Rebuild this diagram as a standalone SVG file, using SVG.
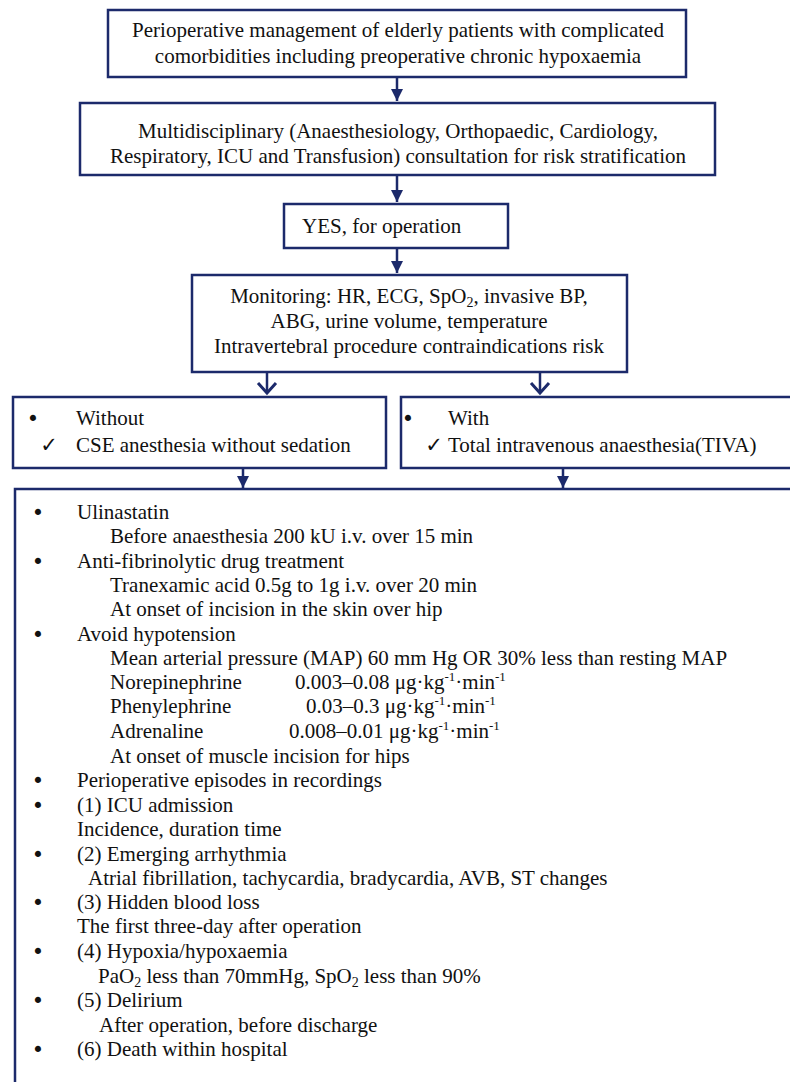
<svg xmlns="http://www.w3.org/2000/svg" width="790" height="1082" viewBox="0 0 790 1082">
<style>
  .box { fill: #ffffff; stroke: #1c2a6b; stroke-width: 2.5; }
  .t { font-family: "Liberation Serif", "DejaVu Serif", "DejaVu Sans", serif; font-size: 21px; fill: #111111; }
  .c { text-anchor: middle; }
  .b { font-family: "DejaVu Sans", sans-serif; font-size: 21px; fill: #111111; text-anchor: middle; }
  .conn { stroke: #1c2a6b; stroke-width: 2.5; fill: none; }
  .sup { font-size: 13px; }
</style>
<defs>
  <marker id="tri" markerUnits="userSpaceOnUse" markerWidth="14" markerHeight="14" viewBox="0 0 14 14" refX="12" refY="7" orient="auto">
    <path d="M0,1 L12,7 L0,13 Z" fill="#1c2a6b"/>
  </marker>
  <marker id="chev" markerUnits="userSpaceOnUse" markerWidth="16" markerHeight="22" viewBox="0 0 16 22" refX="13" refY="11" orient="auto">
    <path d="M3,2 L13,11 L3,20" fill="none" stroke="#1c2a6b" stroke-width="3"/>
  </marker>
</defs>
<rect width="790" height="1082" fill="#ffffff"/>

<g id="connectors">
  <path class="conn" d="M397,77 L397,101" marker-end="url(#tri)"/>
  <path class="conn" d="M397,175 L397,202" marker-end="url(#tri)"/>
  <path class="conn" d="M397,248 L397,273" marker-end="url(#tri)"/>
  <path class="conn" d="M267,372 L267,393" marker-end="url(#chev)"/>
  <path class="conn" d="M540,372 L540,393" marker-end="url(#chev)"/>
  <path class="conn" d="M243,468 L243,488" marker-end="url(#tri)"/>
  <path class="conn" d="M563,468 L563,488" marker-end="url(#tri)"/>
</g>

<g id="node-start">
  <rect class="box" x="108" y="10" width="578" height="67"/>
  <text class="t c" x="398" y="37">Perioperative management of elderly patients with complicated</text>
  <text class="t c" x="398" y="63">comorbidities including preoperative chronic hypoxaemia</text>
</g>

<g id="node-consult">
  <rect class="box" x="80" y="103" width="635" height="72"/>
  <text class="t c" x="398" y="138">Multidisciplinary (Anaesthesiology, Orthopaedic, Cardiology,</text>
  <text class="t c" x="398" y="163">Respiratory, ICU and Transfusion) consultation for risk stratification</text>
</g>

<g id="node-yes">
  <rect class="box" x="284" y="204" width="224" height="44"/>
  <text class="t" x="302" y="233">YES, for operation</text>
</g>

<g id="node-monitoring">
  <rect class="box" x="192" y="275" width="435" height="97"/>
  <text class="t c" x="409" y="303">Monitoring: HR, ECG, SpO<tspan font-size="14" dy="4">2</tspan><tspan dy="-4">, invasive BP,</tspan></text>
  <text class="t c" x="409" y="328">ABG, urine volume, temperature</text>
  <text class="t c" x="409" y="353">Intravertebral procedure contraindications risk</text>
</g>

<g id="node-without">
  <rect class="box" x="13" y="397" width="373" height="71"/>
  <text class="b" x="33" y="426">•</text>
  <text class="t" x="76" y="425">Without</text>
  <text class="t c" x="49" y="452">✓</text>
  <text class="t" x="76" y="452">CSE anesthesia without sedation</text>
</g>

<g id="node-with">
  <rect class="box" x="401" y="397" width="420" height="71"/>
  <text class="b" x="408" y="426">•</text>
  <text class="t" x="448" y="425">With</text>
  <text class="t c" x="434" y="452">✓</text>
  <text class="t" x="448" y="452">Total intravenous anaesthesia(TIVA)</text>
</g>

<g id="node-management">
  <rect class="box" x="15" y="489" width="820" height="640"/>
  <text class="b" x="38" y="520">•</text>
  <text class="t" x="77" y="519">Ulinastatin</text>
  <text class="t" x="110" y="543">Before anaesthesia 200 kU i.v. over 15 min</text>
  <text class="b" x="38" y="569">•</text>
  <text class="t" x="77" y="568">Anti-fibrinolytic drug treatment</text>
  <text class="t" x="110" y="592">Tranexamic acid 0.5g to 1g i.v. over 20 min</text>
  <text class="t" x="110" y="616">At onset of incision in the skin over hip</text>
  <text class="b" x="38" y="642">•</text>
  <text class="t" x="77" y="641">Avoid hypotension</text>
  <text class="t" x="110" y="665">Mean arterial pressure (MAP) 60 mm Hg OR 30% less than resting MAP</text>
  <text class="t" x="110" y="689">Norepinephrine</text>
  <text class="t" x="295" y="689">0.003–0.08 μg·kg<tspan class="sup" dy="-8">-1</tspan><tspan dy="8">·min</tspan><tspan class="sup" dy="-8">-1</tspan></text>
  <text class="t" x="110" y="713">Phenylephrine</text>
  <text class="t" x="306" y="713">0.03–0.3 μg·kg<tspan class="sup" dy="-8">-1</tspan><tspan dy="8">·min</tspan><tspan class="sup" dy="-8">-1</tspan></text>
  <text class="t" x="110" y="738">Adrenaline</text>
  <text class="t" x="289" y="738">0.008–0.01 μg·kg<tspan class="sup" dy="-8">-1</tspan><tspan dy="8">·min</tspan><tspan class="sup" dy="-8">-1</tspan></text>
  <text class="t" x="110" y="763">At onset of muscle incision for hips</text>
  <text class="b" x="38" y="788">•</text>
  <text class="t" x="77" y="787">Perioperative episodes in recordings</text>
  <text class="b" x="38" y="813">•</text>
  <text class="t" x="77" y="812">(1) ICU admission</text>
  <text class="t" x="77" y="836">Incidence, duration time</text>
  <text class="b" x="38" y="862">•</text>
  <text class="t" x="77" y="861">(2) Emerging arrhythmia</text>
  <text class="t" x="88" y="885">Atrial fibrillation, tachycardia, bradycardia, AVB, ST changes</text>
  <text class="b" x="38" y="910">•</text>
  <text class="t" x="77" y="909">(3) Hidden blood loss</text>
  <text class="t" x="77" y="933">The first three-day after operation</text>
  <text class="b" x="38" y="959">•</text>
  <text class="t" x="77" y="958">(4) Hypoxia/hypoxaemia</text>
  <text class="t" x="98" y="983">PaO<tspan font-size="14" dy="4">2</tspan><tspan dy="-4"> less than 70mmHg, SpO</tspan><tspan font-size="14" dy="4">2</tspan><tspan dy="-4"> less than 90%</tspan></text>
  <text class="b" x="38" y="1008">•</text>
  <text class="t" x="77" y="1007">(5) Delirium</text>
  <text class="t" x="99" y="1032">After operation, before discharge</text>
  <text class="b" x="38" y="1057">•</text>
  <text class="t" x="77" y="1056">(6) Death within hospital</text>
</g>
</svg>
